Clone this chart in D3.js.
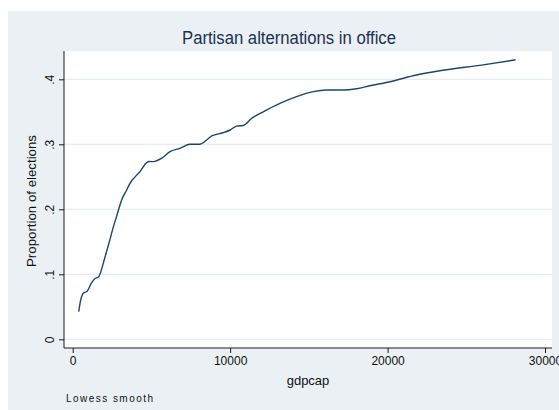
<!DOCTYPE html>
<html>
<head>
<meta charset="utf-8">
<script src="https://cdn.jsdelivr.net/npm/d3@7"></script>
<style>
  html, body { margin: 0; padding: 0; background: #ffffff; }
  svg { display: block; }
  text { font-family: "Liberation Sans", Arial, sans-serif; }
</style>
</head>
<body>
<svg id="chart" width="559" height="410"></svg>
<script>
// Lowess smooth of partisan alternations vs GDP per capita
const gdpcap = [380, 510, 670, 930, 1180, 1400, 1650, 1820, 2030, 2300, 2620, 2750, 2940, 3110,
  3430, 3530, 3780, 3850, 4270, 4700, 4850, 5120, 5650, 6180, 6810, 7450, 8080, 8510, 8830,
  9560, 10000, 10410, 10830, 11370, 12100, 13160, 14220, 15280, 16130, 17180, 18030, 18880,
  20150, 21840, 23320, 26070, 28130];
const proportion = [0.0425, 0.0605, 0.0708, 0.0743, 0.086, 0.093, 0.0963, 0.1066, 0.1246, 0.1477,
  0.176, 0.186, 0.2015, 0.2143, 0.2297, 0.2348, 0.245, 0.247, 0.258, 0.2717, 0.2735, 0.2733,
  0.2785, 0.2886, 0.2938, 0.300, 0.300, 0.3066, 0.3128, 0.3178, 0.322, 0.328, 0.329, 0.340,
  0.350, 0.363, 0.3733, 0.381, 0.3835, 0.3835, 0.3855, 0.390, 0.3963, 0.4066, 0.4132, 0.4222,
  0.430];

const xTicks = [0, 10000, 20000, 30000];
const yTicks = [0, 0.1, 0.2, 0.3, 0.4];
const yTickLabels = ["0", ".1", ".2", ".3", ".4"];

const titleText = "Partisan alternations in office";
const xTitle = "gdpcap";
const yTitle = "Proportion of elections";
const noteText = "Lowess smooth";

const svg = d3.select("#chart");

// graph region and plot region
const region = { left: 8, top: 11, right: 559, bottom: 410 };
const plot = { left: 64, top: 51, right: 552, bottom: 348 };

svg.append("rect")
  .attr("x", region.left).attr("y", region.top)
  .attr("width", region.right - region.left).attr("height", region.bottom - region.top)
  .attr("fill", "#eaf0f3");

svg.append("rect")
  .attr("x", plot.left).attr("y", plot.top)
  .attr("width", plot.right - plot.left).attr("height", plot.bottom - plot.top)
  .attr("fill", "#ffffff");

const x = d3.scaleLinear().domain([0, 30000]).range([72.7, 545]);
const y = d3.scaleLinear().domain([0, 0.4]).range([339.3, 79.3]);

// horizontal grid lines
svg.append("g")
  .selectAll("line")
  .data(yTicks)
  .join("line")
  .attr("x1", plot.left).attr("x2", plot.right)
  .attr("y1", d => y(d)).attr("y2", d => y(d))
  .attr("stroke", "#e4edf0")
  .attr("stroke-width", 1.2);

// x axis
const xAxis = svg.append("g")
  .attr("transform", `translate(0,${plot.bottom})`)
  .call(d3.axisBottom(x).tickValues(xTicks).tickFormat(d3.format("d")).tickSize(5).tickSizeOuter(0));
xAxis.select(".domain").remove();
xAxis.append("line")
  .attr("x1", plot.left).attr("x2", plot.right)
  .attr("stroke", "#1a1a1a").attr("stroke-width", 1);
xAxis.selectAll(".tick line").attr("stroke", "#1a1a1a");
xAxis.selectAll(".tick text")
  .attr("y", 8).attr("dy", "0.71em")
  .attr("fill", "#111").attr("font-size", 12)
  .attr("font-family", "'Liberation Sans', Arial, sans-serif");

// y axis
const yAxis = svg.append("g")
  .attr("transform", `translate(${plot.left},0)`)
  .call(d3.axisLeft(y).tickValues(yTicks).tickFormat((d, i) => yTickLabels[i]).tickSize(5).tickSizeOuter(0));
yAxis.select(".domain").remove();
yAxis.append("line")
  .attr("y1", plot.top).attr("y2", plot.bottom)
  .attr("stroke", "#1a1a1a").attr("stroke-width", 1);
yAxis.selectAll(".tick line").attr("stroke", "#1a1a1a");
yAxis.selectAll(".tick text")
  .attr("x", null).attr("dy", null)
  .attr("text-anchor", "middle")
  .attr("transform", "translate(-10.5,0) rotate(-90)")
  .attr("fill", "#111").attr("font-size", 12)
  .attr("font-family", "'Liberation Sans', Arial, sans-serif");

// lowess curve
const pts = gdpcap.map((g, i) => [g, proportion[i]]);
svg.append("path")
  .datum(pts)
  .attr("fill", "none")
  .attr("stroke", "#1a476f")
  .attr("stroke-width", 1.4)
  .attr("stroke-linejoin", "round")
  .attr("d", d3.line().x(d => x(d[0])).y(d => y(d[1])).curve(d3.curveMonotoneX));

// titles
svg.append("text")
  .attr("x", 289).attr("y", 44)
  .attr("text-anchor", "middle")
  .attr("font-size", 17.5)
  .attr("fill", "#1c3052")
  .attr("textLength", 214).attr("lengthAdjust", "spacingAndGlyphs")
  .text(titleText);

svg.append("text")
  .attr("x", (plot.left + plot.right) / 2).attr("y", 385)
  .attr("text-anchor", "middle")
  .attr("font-size", 13)
  .attr("fill", "#111")
  .text(xTitle);

svg.append("text")
  .attr("transform", `translate(36,201) rotate(-90)`)
  .attr("text-anchor", "middle")
  .attr("font-size", 12.5)
  .attr("fill", "#111")
  .attr("textLength", 132).attr("lengthAdjust", "spacingAndGlyphs")
  .text(yTitle);

svg.append("text")
  .attr("x", 66).attr("y", 402)
  .attr("font-size", 10)
  .attr("fill", "#111")
  .attr("textLength", 87).attr("lengthAdjust", "spacing")
  .text(noteText);
</script>
</body>
</html>
